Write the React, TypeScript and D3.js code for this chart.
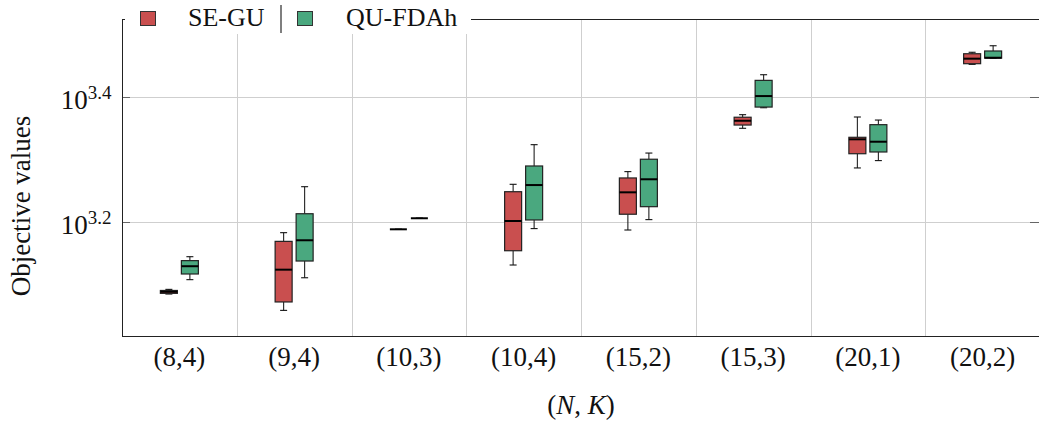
import React from 'react';
import * as d3 from 'd3';

const categories = ["(8,4)", "(9,4)", "(10,3)", "(10,4)", "(15,2)", "(15,3)", "(20,1)", "(20,2)"];
const seriesNames = ["SE-GU", "QU-FDAh"];
// [lower whisker, Q1, median, Q3, upper whisker]
const seGU = [
  [1214, 1217, 1224, 1230, 1235],
  [1143, 1179, 1328, 1474, 1522],
  [1541, 1541, 1541, 1541, 1541],
  [1351, 1424, 1589, 1770, 1819],
  [1537, 1629, 1766, 1862, 1906],
  [2236, 2263, 2299, 2329, 2351],
  [1932, 2036, 2147, 2163, 2331],
  [2830, 2837, 2890, 2943, 2959],
];
const quFDAh = [
  [1280, 1307, 1345, 1373, 1393],
  [1289, 1371, 1480, 1632, 1803],
  [1605, 1605, 1605, 1605, 1605],
  [1545, 1595, 1814, 1946, 2105],
  [1597, 1675, 1853, 1995, 2041],
  [2412, 2418, 2518, 2668, 2724],
  [1985, 2049, 2128, 2266, 2305],
  [2894, 2896, 2900, 2973, 3031],
];
const yTickExponents = [3.2, 3.4];
const yDomain = [1040, 3345];

const colors = ["#c94f4f", "#4aa87f"];
const FONT = '"Liberation Serif", "Times New Roman", serif';

export default function App() {
  const W = 1039, H = 423;
  const left = 122, right = 1040, top = 19, bottom = 336;
  const x = d3.scaleBand<string>().domain(categories).range([left, right]).padding(0);
  const y = d3.scaleLog().domain(yDomain).range([bottom, top]);
  const boxW = 17;
  const offsets = [-10.5, 10.5];
  const allSeries = [seGU, quFDAh];

  const boundaries = categories.slice(1).map((c) => x(c)!);

  return (
    <svg width={W} height={H} style={{ position: 'absolute', left: 0, top: 0 }} fontFamily={FONT}>
      <rect x={0} y={0} width={W} height={H} fill="#fff" />
      {/* grid */}
      {boundaries.map((bx, i) => (
        <line key={'vg' + i} x1={Math.round(bx) + 0.5} x2={Math.round(bx) + 0.5} y1={top} y2={bottom} stroke="#cfcfcf" strokeWidth={1} />
      ))}
      {yTickExponents.map((e, i) => {
        const yy = Math.round(y(Math.pow(10, e))) + 0.5;
        return (
          <g key={'hg' + i}>
            <line x1={left} x2={right} y1={yy} y2={yy} stroke="#cfcfcf" strokeWidth={1} />
            <line x1={left} x2={left + 8} y1={yy} y2={yy} stroke="#666" strokeWidth={1} />
            <line x1={right - 10} x2={right} y1={yy} y2={yy} stroke="#666" strokeWidth={1} />
            <text x={111.5} y={yy + 11.6} textAnchor="end" fontSize={27} fill="#111">
              <tspan>10</tspan>
              <tspan dy={-10} fontSize={19}>{e.toFixed(1)}</tspan>
            </text>
          </g>
        );
      })}
      {/* boxes */}
      {allSeries.map((ser, si) =>
        ser.map((s, ci) => {
          const cx = x(categories[ci])! + x.bandwidth() / 2 + offsets[si];
          const [lo, q1, med, q3, hi] = s.map((v) => y(v));
          return (
            <g key={'b' + si + '-' + ci}>
              <line x1={cx} x2={cx} y1={hi} y2={q3} stroke="#222" strokeWidth={1.1} />
              <line x1={cx} x2={cx} y1={q1} y2={lo} stroke="#222" strokeWidth={1.1} />
              <line x1={cx - 3.5} x2={cx + 3.5} y1={hi} y2={hi} stroke="#111" strokeWidth={1.1} />
              <line x1={cx - 3.5} x2={cx + 3.5} y1={lo} y2={lo} stroke="#111" strokeWidth={1.1} />
              <rect x={cx - boxW / 2} y={q3} width={boxW} height={Math.max(0, q1 - q3)} fill={colors[si]} stroke="#222" strokeWidth={1.2} />
              <line x1={cx - boxW / 2} x2={cx + boxW / 2} y1={med} y2={med} stroke="#000" strokeWidth={2} />
            </g>
          );
        })
      )}
      {/* axes */}
      <line x1={left + 0.5} x2={left + 0.5} y1={top} y2={bottom} stroke="#222" strokeWidth={1} />
      <line x1={left} x2={right} y1={bottom + 0.5} y2={bottom + 0.5} stroke="#222" strokeWidth={1} />
      <line x1={left} x2={right} y1={top + 0.5} y2={top + 0.5} stroke="#222" strokeWidth={1} />
      <line x1={right - 0.5} x2={right - 0.5} y1={top} y2={bottom} stroke="#222" strokeWidth={1} />
      {/* x tick labels */}
      {categories.map((c) => (
        <text key={'xl' + c} x={x(c)! + x.bandwidth() / 2} y={366} textAnchor="middle" fontSize={27} fill="#111">{c}</text>
      ))}
      {/* axis titles */}
      <text x={(left + right) / 2} y={414} textAnchor="middle" fontSize={27} fill="#111">
        <tspan>(</tspan><tspan fontStyle="italic">N</tspan><tspan>, </tspan><tspan fontStyle="italic">K</tspan><tspan>)</tspan>
      </text>
      <text transform="translate(30,206) rotate(-90)" textAnchor="middle" fontSize={27} fill="#111">Objective values</text>
      {/* legend */}
      <rect x={125} y={4} width={346} height={30} fill="#fff" />
      <rect x={140.5} y={11.5} width={15} height={14} fill={colors[0]} stroke="#333" strokeWidth={1} />
      <text x={188} y={26} fontSize={26} fill="#111">{seriesNames[0]}</text>
      <line x1={281} x2={281} y1={5} y2={33} stroke="#555" strokeWidth={1.5} />
      <rect x={297.5} y={11.5} width={15} height={14} fill={colors[1]} stroke="#333" strokeWidth={1} />
      <text x={346} y={26} fontSize={26} fill="#111">{seriesNames[1]}</text>
    </svg>
  );
}
